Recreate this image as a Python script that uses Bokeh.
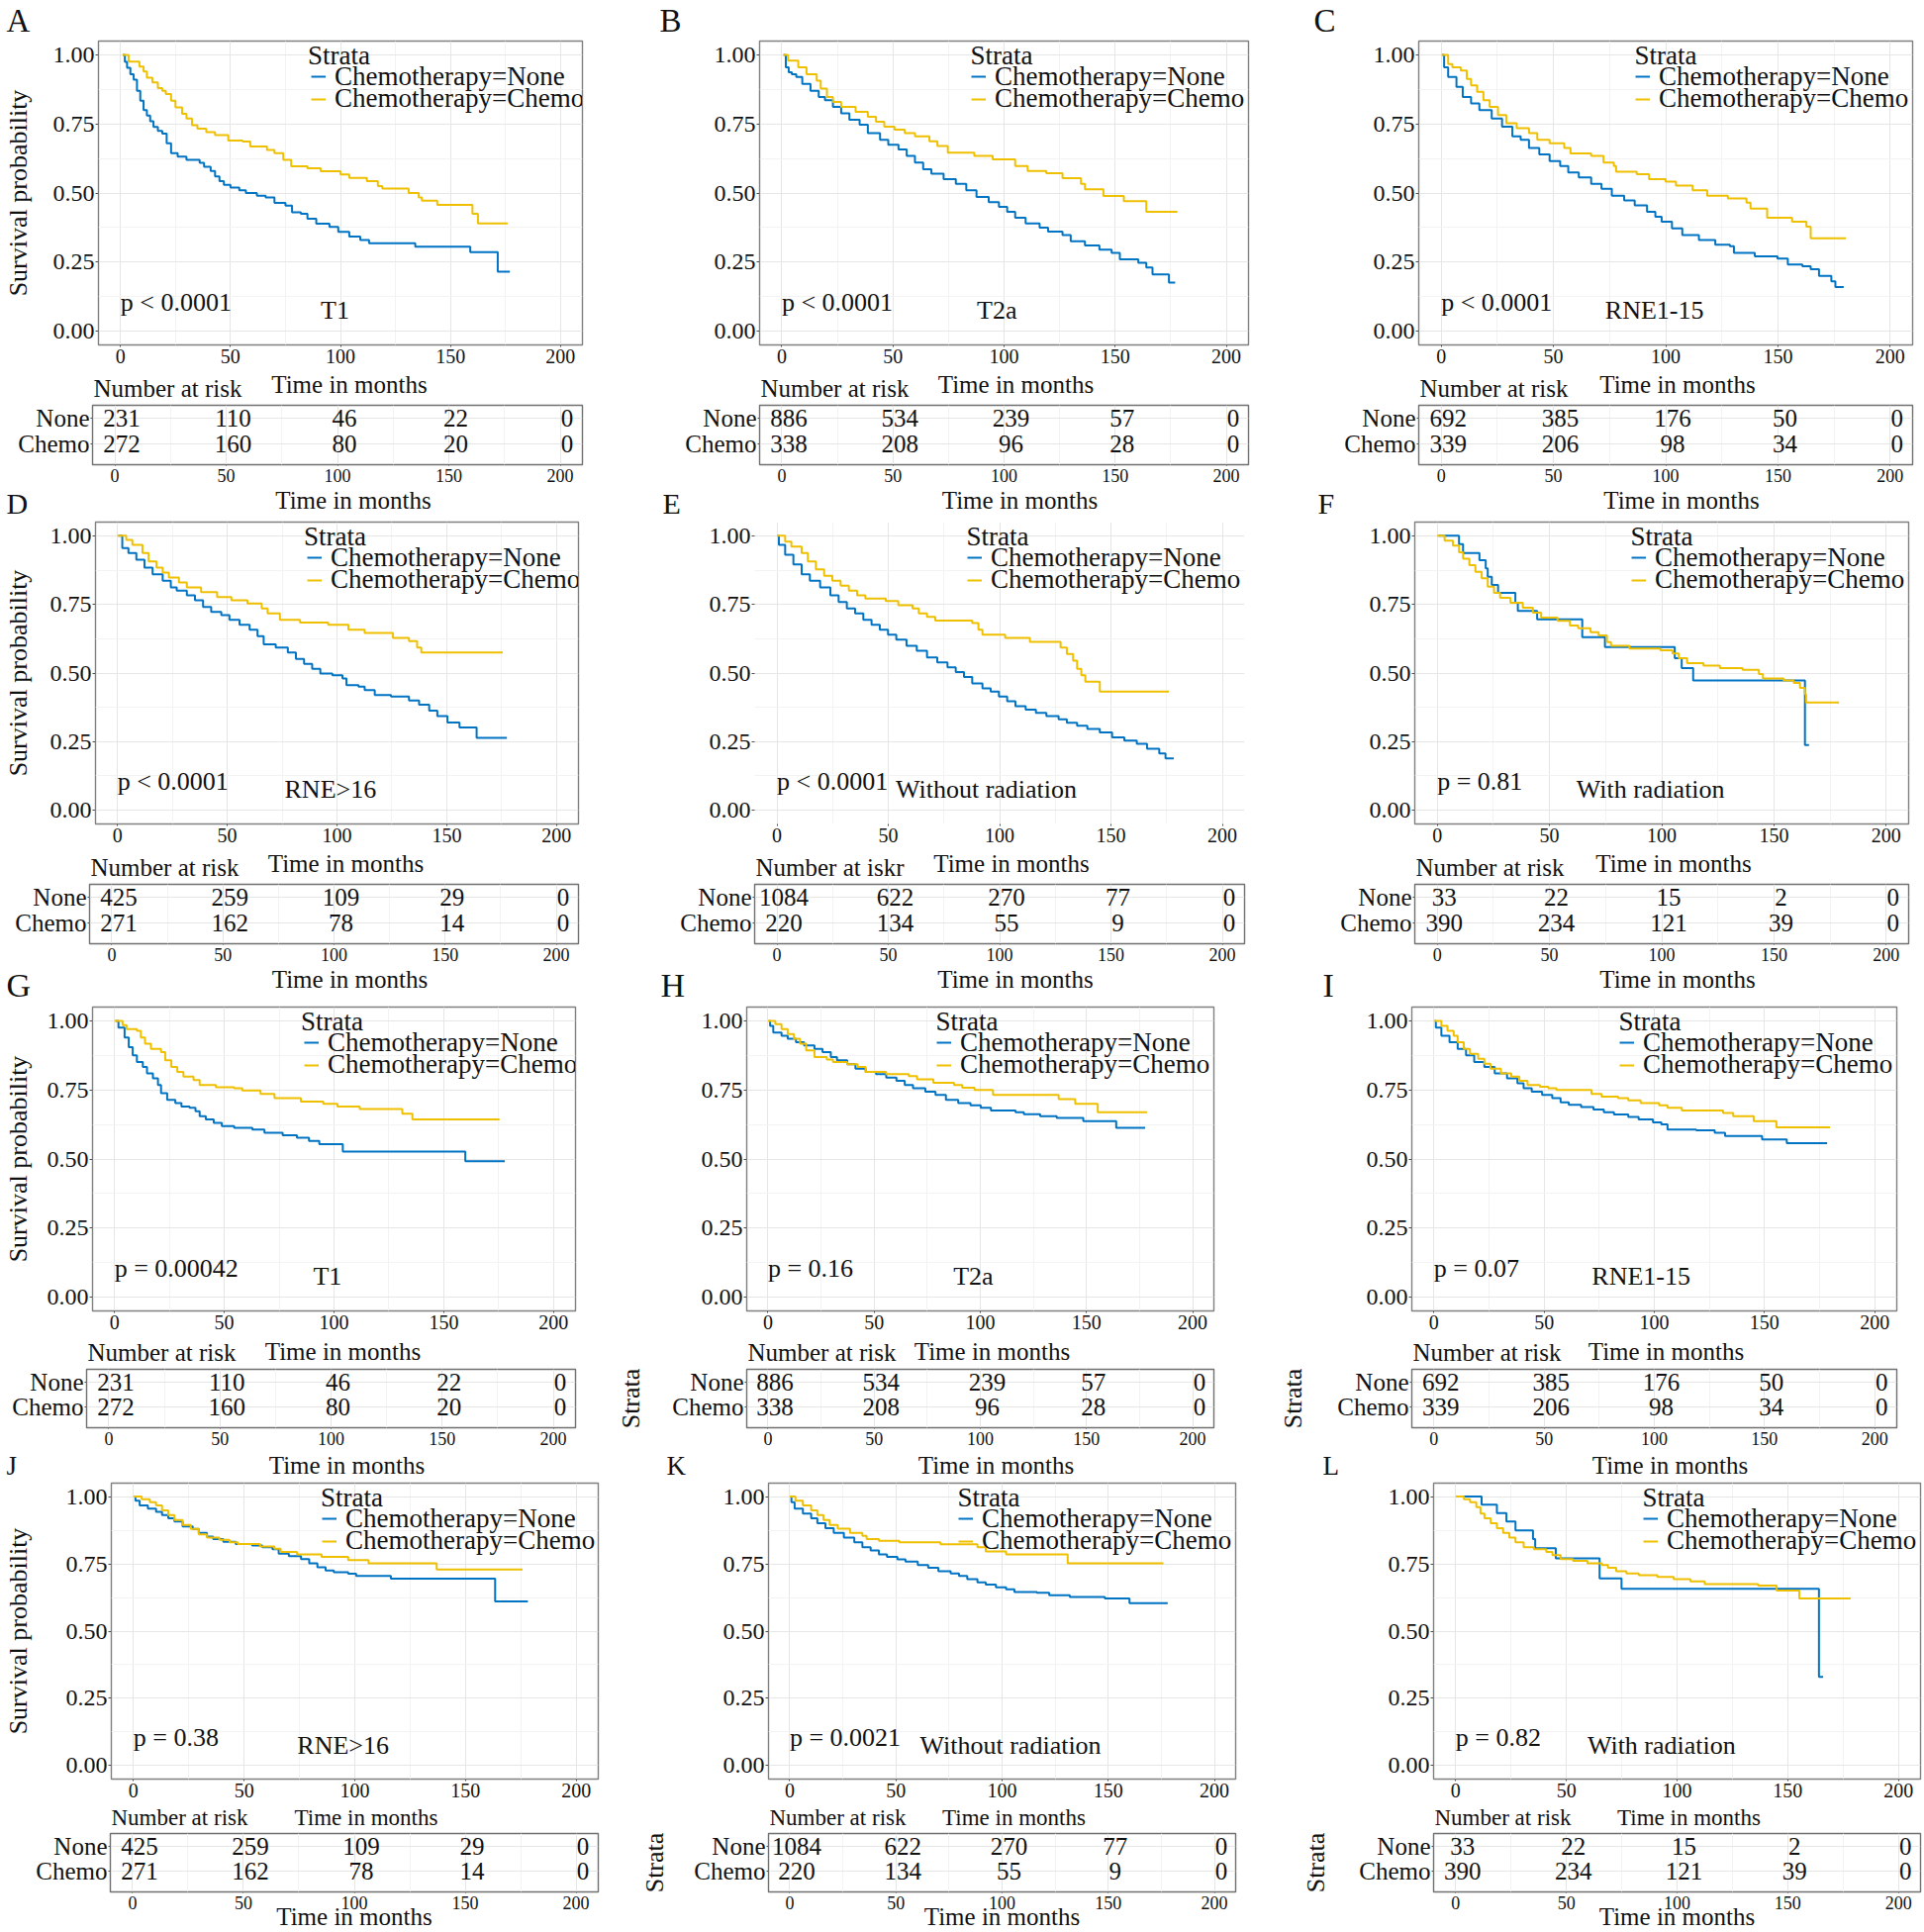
from bokeh.plotting import figure
from bokeh.models import ColumnDataSource, FixedTicker, Legend, LegendItem, Range1d
from bokeh.layouts import column, row
from bokeh.core.properties import value
from bokeh.embed import file_html
from bokeh.resources import INLINE

# ---------------- data ----------------
panel_letters = ["A", "B", "C", "D", "E", "F", "G", "H", "I", "J", "K", "L"]
subgroups = ["T1", "T2a", "RNE1-15", "RNE>16", "Without radiation", "With radiation",
             "T1", "T2a", "RNE1-15", "RNE>16", "Without radiation", "With radiation"]
p_values = ["p < 0.0001", "p < 0.0001", "p < 0.0001", "p < 0.0001", "p < 0.0001", "p = 0.81",
            "p = 0.00042", "p = 0.16", "p = 0.07", "p = 0.38", "p = 0.0021", "p = 0.82"]
risk_titles = ["Number at risk", "Number at risk", "Number at risk", "Number at risk",
               "Number at iskr", "Number at risk", "Number at risk", "Number at risk",
               "Number at risk", "Number at risk", "Number at risk", "Number at risk"]
legend_title = "Strata"
strata_names = ["Chemotherapy=None", "Chemotherapy=Chemo"]
risk_rows = ["None", "Chemo"]
x_ticks = [0, 50, 100, 150, 200]
x_minor = [25, 75, 125, 175]
x_tick_labels = ["0", "50", "100", "150", "200"]
y_ticks = [0, 0.25, 0.5, 0.75, 1.0]
y_minor = [0.125, 0.375, 0.625, 0.875]
y_tick_labels = ["0.00", "0.25", "0.50", "0.75", "1.00"]
risk_times = [0, 50, 100, 150, 200]

# survival curves: (time in months, survival after the step)
A_none = [(1,1.0),(2,0.975),(3,0.953),(4.5,0.93),(6,0.91),(7.5,0.87),(9,0.834),(10.5,0.80),(12,0.78),(13.5,0.76),(15,0.739),(17,0.725),(19,0.715),(21,0.68),(23,0.644),(26,0.632),(30,0.62),(36,0.609),(38,0.595),(41,0.58),(43,0.56),(45,0.543),(47,0.53),(50,0.52),(54,0.51),(57,0.50),(62,0.49),(66,0.484),(70,0.464),(75,0.454),(78,0.43),(82,0.425),(85,0.407),(89,0.389),(95,0.377),(99,0.359),(104,0.342),(109,0.33),(113,0.318),(134,0.306),(159,0.286),(171.5,0.215),(177,0.215)]
A_chemo = [(1,1.0),(3.7,0.976),(8.6,0.958),(10.5,0.94),(12,0.917),(14.5,0.90),(17,0.88),(19,0.87),(20.6,0.858),(23,0.834),(25,0.81),(28,0.787),(30,0.77),(32.5,0.745),(35,0.733),(39,0.72),(43,0.71),(49,0.69),(55.5,0.686),(59,0.668),(66.6,0.656),(70,0.644),(74,0.62),(77.6,0.597),(85,0.59),(91,0.579),(100,0.567),(104,0.555),(112,0.543),(117,0.525),(119,0.516),(131,0.50),(135.6,0.484),(137,0.472),(144,0.457),(160,0.425),(162.5,0.39),(176,0.39)]
B_none = [(1,1.0),(1.8,0.955),(3.1,0.937),(4.5,0.93),(6.5,0.92),(9.2,0.895),(12.9,0.87),(16.6,0.848),(19.4,0.836),(23,0.812),(26.7,0.788),(30.4,0.765),(35,0.747),(38.7,0.717),(44.2,0.693),(47.9,0.675),(52.5,0.658),(56.2,0.634),(59.9,0.61),(63.6,0.586),(67.3,0.57),(72.8,0.55),(78.3,0.533),(83,0.51),(87.6,0.486),(93.1,0.467),(97.7,0.45),(101.4,0.432),(105,0.41),(109.7,0.39),(116,0.375),(119.8,0.36),(126.3,0.348),(130,0.325),(136.4,0.31),(142.9,0.295),(148.4,0.283),(152.1,0.26),(160.4,0.247),(164,0.23),(166.8,0.205),(174.2,0.176),(177,0.176)]
B_chemo = [(0.5,1.0),(2.8,0.979),(7.4,0.955),(11.1,0.93),(15.7,0.907),(17.5,0.878),(20.3,0.848),(23,0.83),(26.7,0.812),(33.2,0.794),(38.7,0.776),(42.4,0.758),(46.1,0.74),(50.7,0.729),(55.3,0.717),(59.9,0.705),(66.4,0.687),(70,0.67),(74.7,0.646),(86.6,0.634),(94.9,0.622),(105,0.598),(110.6,0.58),(119,0.572),(126.3,0.554),(134.6,0.533),(136.4,0.513),(144.7,0.489),(153.9,0.47),(164,0.432),(178,0.432)]
C_none = [(0.4,1.0),(1.3,0.955),(3.1,0.92),(6.8,0.884),(9.6,0.848),(13.3,0.824),(17,0.80),(22.5,0.77),(27.1,0.74),(31.7,0.705),(35.4,0.693),(39.1,0.663),(43.7,0.64),(48.3,0.616),(53,0.598),(56.6,0.574),(61.3,0.556),(66.8,0.533),(71.4,0.515),(76,0.49),(81.5,0.473),(86.2,0.455),(91.7,0.432),(95.4,0.414),(98.2,0.396),(102.8,0.372),(107.4,0.348),(114.8,0.33),(122.1,0.313),(128.6,0.307),(130.4,0.283),(139.7,0.271),(149.8,0.263),(154.4,0.241),(160.9,0.235),(164.6,0.224),(168.3,0.20),(173.8,0.18),(175.6,0.16),(179.3,0.16)]
C_chemo = [(0.2,1.0),(3.1,0.967),(5,0.955),(8.7,0.943),(11.4,0.913),(13.3,0.89),(16,0.866),(18.8,0.836),(21.6,0.812),(25.3,0.782),(29,0.753),(33.6,0.735),(39.1,0.717),(42.8,0.693),(48.3,0.68),(54.8,0.663),(57.6,0.643),(66.8,0.634),(72.3,0.61),(76.9,0.598),(77.9,0.577),(87.1,0.568),(92.6,0.55),(100,0.541),(104.6,0.527),(112,0.51),(118.5,0.49),(127.7,0.48),(136,0.465),(137.8,0.444),(145.2,0.41),(156.3,0.396),(162.7,0.378),(164.6,0.336),(180.3,0.336)]
D_none = [(0.4,1.0),(2.2,0.955),(5,0.937),(8.6,0.913),(12.3,0.884),(16,0.86),(20.6,0.836),(24.3,0.812),(27,0.80),(31.6,0.783),(35.3,0.765),(39,0.741),(42.7,0.723),(47.3,0.711),(51,0.694),(55.6,0.676),(60.2,0.658),(63.8,0.634),(66.6,0.605),(72.1,0.593),(77.6,0.575),(81.3,0.551),(85,0.533),(88.7,0.515),(92.4,0.498),(97.9,0.492),(102.5,0.48),(104.3,0.456),(109.8,0.45),(112.6,0.438),(117.2,0.42),(124.6,0.414),(132.8,0.40),(137.4,0.385),(142,0.363),(145.7,0.343),(150.3,0.32),(155.8,0.302),(163.6,0.264),(177.4,0.264)]
D_chemo = [(0,1.0),(4,0.985),(6.8,0.967),(11.4,0.937),(14.2,0.907),(17.8,0.884),(20.6,0.866),(23.4,0.848),(28,0.83),(31.6,0.812),(38.1,0.795),(45.4,0.777),(51.9,0.765),(59.2,0.753),(65.7,0.735),(68.4,0.717),(74,0.694),(83.2,0.684),(96,0.676),(105.2,0.658),(112.6,0.646),(125.5,0.628),(132.8,0.616),(136.5,0.593),(138.4,0.575),(175.5,0.575)]
E_none = [(0.5,1.0),(0.9,0.967),(3.7,0.931),(7.4,0.896),(11.1,0.86),(14.8,0.836),(19.4,0.812),(24,0.783),(27.7,0.759),(31.4,0.735),(35.1,0.717),(38.8,0.694),(42.5,0.676),(46.2,0.658),(49.9,0.64),(53.6,0.622),(58.2,0.599),(62.8,0.581),(67.4,0.557),(72,0.539),(76.6,0.521),(80.3,0.504),(84,0.486),(87.7,0.462),(92.3,0.444),(96,0.432),(99.7,0.414),(103.4,0.397),(107.1,0.379),(111.7,0.367),(116.3,0.355),(121,0.343),(126.5,0.331),(130.2,0.319),(134.8,0.308),(139.4,0.296),(145,0.284),(150.5,0.266),(156,0.254),(161.6,0.242),(166.2,0.224),(171.7,0.207),(174.5,0.189),(178.2,0.189)]
E_chemo = [(0,1.0),(3.7,0.979),(6.5,0.961),(11.1,0.937),(13.9,0.907),(17.5,0.878),(21.2,0.854),(24.9,0.836),(28.6,0.818),(32.3,0.80),(36,0.783),(39.7,0.771),(48.9,0.762),(54.5,0.747),(60.9,0.735),(63.7,0.717),(67.4,0.705),(71.1,0.691),(87.7,0.682),(90.5,0.658),(92.3,0.64),(102.5,0.628),(113.6,0.614),(127.4,0.593),(130.2,0.569),(133,0.545),(134.8,0.515),(136.7,0.492),(138.5,0.468),(145,0.432),(176,0.432)]
F_none = [(0.5,1.0),(9.7,0.970),(11.5,0.937),(18.8,0.911),(21.6,0.881),(22.5,0.851),(24.3,0.821),(27.1,0.792),(34.8,0.756),(35.9,0.726),(44.5,0.696),(64.6,0.631),(74.7,0.595),(105.8,0.554),(108.9,0.518),(114,0.473),(163.8,0.238),(165.6,0.238)]
F_chemo = [(0,1.0),(3.3,0.982),(7,0.964),(9.7,0.94),(11.5,0.917),(14.3,0.893),(17,0.869),(19.8,0.845),(22.5,0.815),(25.3,0.792),(28,0.774),(32.6,0.756),(38.1,0.738),(42.6,0.72),(46.3,0.702),(53.6,0.69),(59.1,0.673),(62.8,0.663),(68.3,0.649),(71.9,0.637),(75.6,0.613),(77.4,0.599),(85.6,0.589),(99.4,0.583),(104.8,0.571),(107.6,0.554),(111.3,0.536),(118.6,0.527),(125.9,0.518),(136,0.512),(143.3,0.496),(145.1,0.48),(154.3,0.473),(158.8,0.464),(161.6,0.446),(163.8,0.423),(164.3,0.393),(179,0.393)]
G_none = [(0.6,1.0),(1.8,0.976),(4.6,0.94),(6.5,0.905),(8.3,0.875),(10.2,0.851),(12.9,0.833),(14.8,0.81),(17.5,0.792),(19.8,0.768),(21.2,0.738),(24,0.714),(27.7,0.702),(30.5,0.69),(34.2,0.685),(36.9,0.673),(38.8,0.655),(41.6,0.643),(45.2,0.631),(48.9,0.619),(54.5,0.613),(62.8,0.607),(68.3,0.595),(76.6,0.586),(83.1,0.577),(88.6,0.565),(93.3,0.554),(104,0.527),(159.8,0.492),(177.8,0.492)]
G_chemo = [(0,1.0),(3.7,0.985),(5.5,0.97),(10.2,0.964),(12,0.94),(13.9,0.917),(16.6,0.899),(21.2,0.887),(23.1,0.857),(25.9,0.833),(28.6,0.815),(31.4,0.798),(36,0.786),(38.8,0.768),(46.2,0.76),(54.5,0.756),(58.2,0.748),(66.5,0.736),(72.9,0.72),(84.9,0.708),(95.1,0.70),(101.6,0.69),(111.7,0.681),(131.1,0.664),(135.7,0.643),(175.4,0.643)]
H_none = [(0.5,1.0),(1,0.982),(2.5,0.958),(6.4,0.946),(9.3,0.935),(13.2,0.923),(17,0.911),(21.9,0.899),(25.7,0.887),(29.6,0.869),(32.5,0.857),(37.3,0.843),(41.2,0.827),(46,0.815),(50.9,0.807),(55.7,0.795),(60.5,0.783),(64.4,0.768),(68.3,0.756),(74.1,0.744),(78.9,0.732),(83.8,0.714),(89.6,0.702),(95.4,0.694),(100.2,0.685),(105,0.676),(116.6,0.669),(120.5,0.662),(128.2,0.655),(136,0.649),(148.5,0.637),(164,0.613),(177.6,0.613)]
H_chemo = [(0,1.0),(3.5,0.988),(6.4,0.97),(9.3,0.952),(12.2,0.935),(15.1,0.917),(18,0.893),(21.9,0.869),(27.7,0.86),(30.6,0.851),(37.3,0.843),(42.2,0.833),(46,0.815),(55.7,0.807),(66.3,0.80),(70.2,0.788),(77.9,0.776),(87.6,0.768),(91.5,0.758),(97.3,0.75),(106,0.732),(136.9,0.717),(144.7,0.70),(155.3,0.669),(178.5,0.669)]
I_none = [(0.5,1.0),(0.9,0.976),(3.4,0.946),(7.1,0.923),(10.8,0.899),(14.6,0.875),(18.3,0.851),(22.9,0.833),(27.6,0.81),(33.2,0.792),(37.9,0.774),(40.7,0.756),(44.4,0.744),(49.1,0.732),(53.7,0.72),(57.5,0.705),(61.2,0.696),(66.8,0.688),(72.4,0.679),(77.1,0.669),(81.7,0.661),(88.2,0.652),(92.9,0.643),(99.4,0.633),(103.2,0.625),(106,0.607),(119,0.604),(127.4,0.595),(132.1,0.583),(148.9,0.571),(160.1,0.557),(178.4,0.557)]
I_chemo = [(0,1.0),(3.4,0.982),(6.2,0.964),(9,0.946),(10.8,0.923),(13.6,0.899),(16.4,0.881),(20.1,0.863),(22.9,0.845),(25.7,0.827),(30.4,0.81),(35.1,0.798),(38.8,0.783),(42.5,0.768),(48.1,0.762),(51.9,0.756),(55.6,0.75),(71.5,0.736),(76.1,0.726),(83.6,0.72),(88.2,0.712),(93.8,0.702),(102.2,0.694),(106,0.685),(112.5,0.676),(131.2,0.667),(135.8,0.655),(145.1,0.637),(155.4,0.615),(179.7,0.615)]
J_none = [(0.4,1.0),(0.9,0.985),(2.8,0.967),(6.5,0.955),(10.2,0.943),(12.9,0.931),(15.7,0.919),(18.5,0.907),(22.2,0.889),(26.8,0.88),(29.5,0.865),(33.2,0.851),(36,0.842),(40.6,0.832),(46.2,0.824),(53.6,0.818),(58.2,0.812),(62.8,0.804),(65.6,0.788),(70.2,0.779),(75.7,0.768),(79.4,0.752),(83.1,0.737),(86.8,0.725),(90.5,0.719),(97,0.713),(100.6,0.705),(116.3,0.695),(163.4,0.61),(178.2,0.61)]
J_chemo = [(0,1.0),(3.7,0.99),(7.4,0.979),(10.2,0.967),(12.9,0.949),(15.7,0.931),(18.5,0.913),(22.2,0.895),(25.9,0.88),(29.5,0.86),(33.2,0.848),(38.8,0.839),(43.4,0.83),(47.1,0.824),(57.2,0.815),(63.7,0.806),(66.5,0.794),(73.9,0.785),(85,0.776),(97,0.764),(106.2,0.752),(137,0.729),(175.8,0.729)]
K_none = [(0.4,1.0),(0.8,0.979),(2.3,0.955),(6.2,0.937),(10.1,0.919),(13,0.901),(16.8,0.883),(20.7,0.865),(25.5,0.848),(30.4,0.83),(34.2,0.812),(38.1,0.80),(42,0.785),(45.8,0.776),(50.7,0.767),(54.5,0.758),(60.3,0.746),(65.2,0.735),(70,0.723),(75.8,0.714),(79.7,0.705),(83.6,0.693),(88.4,0.681),(92.3,0.673),(97.1,0.663),(101.9,0.655),(105.8,0.645),(116.4,0.643),(122.2,0.633),(131.9,0.627),(148.4,0.621),(160,0.604),(178,0.604)]
K_chemo = [(0,1.0),(2.7,0.985),(6.2,0.967),(10.1,0.949),(13,0.931),(15.9,0.913),(18.8,0.895),(22.6,0.881),(28.4,0.865),(34.2,0.854),(36.2,0.842),(42,0.836),(51.6,0.83),(71,0.823),(88.4,0.812),(92.3,0.796),(101.9,0.785),(130.9,0.752),(176,0.752)]
L_none = [(0.5,1.0),(11.7,0.970),(18.6,0.939),(22.9,0.907),(27,0.874),(34.9,0.842),(35.9,0.808),(45.2,0.770),(65,0.696),(74.9,0.657),(164.1,0.330),(166,0.330)]
L_chemo = [(0,1.0),(3.7,0.99),(6.5,0.979),(9.3,0.961),(11.2,0.937),(13,0.919),(15.8,0.901),(18.6,0.883),(21.4,0.865),(24.2,0.848),(27,0.83),(30.7,0.812),(35.3,0.804),(40.9,0.794),(43.7,0.782),(47.4,0.768),(53,0.761),(59.5,0.752),(66,0.746),(68.8,0.735),(72.5,0.723),(77.1,0.714),(82.7,0.708),(91.1,0.701),(98.5,0.693),(106,0.685),(112.5,0.675),(136.6,0.669),(145,0.651),(155.2,0.621),(178.4,0.621)]

# numbers at risk at 0, 50, 100, 150, 200 months
risk_T1_none = [231, 110, 46, 22, 0]
risk_T1_chemo = [272, 160, 80, 20, 0]
risk_T2a_none = [886, 534, 239, 57, 0]
risk_T2a_chemo = [338, 208, 96, 28, 0]
risk_RNE115_none = [692, 385, 176, 50, 0]
risk_RNE115_chemo = [339, 206, 98, 34, 0]
risk_RNE16_none = [425, 259, 109, 29, 0]
risk_RNE16_chemo = [271, 162, 78, 14, 0]
risk_norad_none = [1084, 622, 270, 77, 0]
risk_norad_chemo = [220, 134, 55, 9, 0]
risk_rad_none = [33, 22, 15, 2, 0]
risk_rad_chemo = [390, 234, 121, 39, 0]

curves_none = [A_none, B_none, C_none, D_none, E_none, F_none, G_none, H_none, I_none, J_none, K_none, L_none]
curves_chemo = [A_chemo, B_chemo, C_chemo, D_chemo, E_chemo, F_chemo, G_chemo, H_chemo, I_chemo, J_chemo, K_chemo, L_chemo]
risks_none = [risk_T1_none, risk_T2a_none, risk_RNE115_none, risk_RNE16_none, risk_norad_none, risk_rad_none] * 2
risks_chemo = [risk_T1_chemo, risk_T2a_chemo, risk_RNE115_chemo, risk_RNE16_chemo, risk_norad_chemo, risk_rad_chemo] * 2

# ---------------- styling / layout (reference pixel geometry) ----------------
FONT = "Liberation Serif"
BLUE, GOLD = "#0073C2", "#EFC000"
INK = "#111111"
COLS = [(0, 615), (615, 660), (1275, 669)]          # column left edge, width
TOP_STRIP = (0, 40)
TOP_LETTER = (20, 33)                               # centre y, font size
TXT = 25
ROWS = [
    dict(km=(40, 373), mid=(373, 407), tab=(407, 490), bot=(490, 526), tabf=(409, 469),
         km_title_y=388, nar_y=392, mid_size=TXT, tab_title_y=505, letter_y=508, letter_size=30),
    dict(km=(526, 857), mid=(857, 891), tab=(891, 974), bot=(974, 1016), tabf=(893, 953),
         km_title_y=872, nar_y=876, mid_size=TXT, tab_title_y=989, letter_y=995, letter_size=34),
    dict(km=(1016, 1349), mid=(1349, 1381), tab=(1381, 1464), bot=(1464, 1497), tabf=(1383, 1442),
         km_title_y=1365, nar_y=1366, mid_size=TXT, tab_title_y=1479.5, letter_y=1480.5, letter_size=27),
    dict(km=(1497, 1822), mid=(1822, 1850), tab=(1850, 1952), bot=None, tabf=(1852, 1911),
         km_title_y=1836, nar_y=1836, mid_size=23, tab_title_y=None, letter_y=None, letter_size=None),
]
KM_FRAMES = [(93, 41, 588, 348), (767, 41, 1261, 348), (1433, 41, 1932, 348),
             (90, 527, 584, 832), (762, 527, 1257, 832), (1429, 527, 1928, 832),
             (87, 1017, 581, 1324), (754, 1017, 1226, 1324), (1426, 1017, 1916, 1324),
             (111, 1498, 604, 1797), (776, 1498, 1248, 1797), (1448, 1498, 1940, 1797)]
SUB_X = [97.5, 96.8, 95, 97, 94, 95, 97, 96.7, 94, 94.7, 104, 93]
LETTER_X = [6, 666, 1327, 6, 669, 1331, 6, 667, 1336, 6, 673, 1336]
YLAB_STANDOFF = {0: 18, 3: 15, 6: 12, 9: 31}
STRATA_STANDOFF = {7: 24, 8: 27, 10: 22, 11: 26}
LEG_FROM_RIGHT = 280          # legend block starts this many px left of the frame's right edge
LEG_ITEM_DY = [35, 57.5]      # legend entry centres below the frame top (px)
LEG_TITLE_DY = 14             # legend title centre below the frame top (px)
LEG_ITEM_H = 31


def unaligned(p):
    try:
        p.frame_align = False
    except Exception:
        pass
    return p


def base_fig(cx0, cw, fy0, fy1, frame, yr):
    fl, ft, fr, fb = frame
    p = figure(width=cw, height=fy1 - fy0, x_range=Range1d(-10, 210), y_range=yr,
               toolbar_location=None, output_backend="svg",
               min_border_left=fl - cx0, min_border_right=cx0 + cw - fr,
               min_border_top=ft - fy0, min_border_bottom=fy1 - fb)
    unaligned(p)
    p.background_fill_color = "white"
    p.border_fill_color = "white"
    p.xaxis.ticker = FixedTicker(ticks=x_ticks, minor_ticks=x_minor)
    p.xaxis.major_label_overrides = dict(zip(x_ticks, x_tick_labels))
    for ax in (p.xaxis[0], p.yaxis[0]):
        ax.axis_line_color = None
        ax.major_tick_in = 0
        ax.major_tick_out = 3
        ax.major_tick_line_color = "#4d4d4d"
        ax.minor_tick_line_color = None
        ax.major_label_text_font = FONT
        ax.major_label_text_color = INK
        ax.major_label_standoff = 0
        ax.axis_label_text_font = FONT
        ax.axis_label_text_font_style = "normal"
        ax.axis_label_text_color = INK
        ax.axis_label_text_font_size = "26px"
    p.xgrid.grid_line_color = "#E6E6E6"
    p.xgrid.minor_grid_line_color = "#F3F3F3"
    p.ygrid.grid_line_color = "#E6E6E6"
    p.ygrid.minor_grid_line_color = "#F3F3F3"
    return p


def strip(cx0, cw, y0, y1):
    s = figure(width=cw, height=y1 - y0, x_range=Range1d(cx0, cx0 + cw), y_range=Range1d(y1, y0),
               toolbar_location=None, output_backend="svg", x_axis_type=None, y_axis_type=None,
               min_border_left=0, min_border_right=0, min_border_top=0, min_border_bottom=0)
    unaligned(s)
    s.outline_line_color = None
    s.background_fill_color = "white"
    s.border_fill_color = "white"
    return s


def say(s, x, y, text, size, align="left"):
    s.text(x=[x], y=[y], text=[text], text_font=value(FONT), text_font_size=value(f"{size}px"),
           text_color=INK, text_align=align, text_baseline="middle")


def make_km(i):
    c, r = i % 3, i // 3
    cx0, cw = COLS[c]
    fy0, fy1 = ROWS[r]["km"]
    frame = KM_FRAMES[i]
    fl, ft, fr, fb = frame
    W, H = fr - fl, fb - ft
    p = base_fig(cx0, cw, fy0, fy1, frame, Range1d(-0.05, 1.05))
    p.outline_line_color = None if panel_letters[i] == "E" else "#808080"
    p.outline_line_width = 1.4
    p.xaxis.major_label_text_font_size = "20px"
    p.xaxis.major_tick_out = 2
    p.yaxis.ticker = FixedTicker(ticks=y_ticks, minor_ticks=y_minor)
    p.yaxis.major_label_overrides = dict(zip(y_ticks, y_tick_labels))
    p.yaxis.major_label_text_font_size = "24px"
    if i in YLAB_STANDOFF:
        p.yaxis.axis_label = "Survival probability"
        p.yaxis.axis_label_standoff = YLAB_STANDOFF[i]

    renderers = []
    for curve, color in ((curves_none[i], BLUE), (curves_chemo[i], GOLD)):
        t = [a for a, b in curve]
        s = [b for a, b in curve]
        renderers.append(p.step(x=t, y=s, mode="after", line_color=color, line_width=2))

    # legend: title text + one entry per stratum, stacked top-right inside the panel
    leg_x = W - LEG_FROM_RIGHT
    for name, rend, dy in zip(strata_names, renderers, LEG_ITEM_DY):
        lg = Legend(items=[LegendItem(label=value(name), renderers=[rend])],
                    location=(leg_x, H - dy - LEG_ITEM_H / 2 - 1), margin=0, padding=1, spacing=0,
                    background_fill_alpha=0, border_line_color=None,
                    glyph_width=15, glyph_height=30, label_height=30, label_standoff=9,
                    label_text_font=FONT, label_text_font_size="27px", label_text_color=INK)
        p.add_layout(lg)
    title_x = -10 + (W - LEG_FROM_RIGHT - 1) / W * 220
    title_y = 1.05 - LEG_TITLE_DY / H * 1.1
    p.text(x=[title_x], y=[title_y], text=[legend_title], text_font=value(FONT),
           text_font_size=value("27px"), text_color=INK, text_align="left", text_baseline="middle")

    p.text(x=[0], y=[0.105], text=[p_values[i]], text_font=value(FONT), text_font_size=value("26px"),
           text_color=INK, text_align="left", text_baseline="middle")
    p.text(x=[SUB_X[i]], y=[0.075], text=[subgroups[i]], text_font=value(FONT),
           text_font_size=value("26px"), text_color=INK, text_align="center", text_baseline="middle")
    return p


def make_tab(i):
    c, r = i % 3, i // 3
    cx0, cw = COLS[c]
    fy0, fy1 = ROWS[r]["tab"]
    fl, _, fr, _ = KM_FRAMES[i]
    ft, fb = ROWS[r]["tabf"]
    p = base_fig(cx0, cw, fy0, fy1, (fl, ft, fr, fb), Range1d(0.2, 2.5))
    p.outline_line_color = "#707070"
    p.outline_line_width = 1.4
    p.xaxis.major_label_text_font_size = "18px"
    p.xaxis.major_tick_out = 1
    if ROWS[r]["bot"] is None:
        p.xaxis.axis_label = "Time in months"
        p.xaxis.axis_label_text_font_size = f"{TXT}px"
        p.xaxis.axis_label_standoff = -9
    row_y = [2, 1]
    p.yaxis.ticker = FixedTicker(ticks=row_y)
    p.yaxis.major_label_overrides = dict(zip(row_y, risk_rows))
    p.yaxis.major_label_text_font_size = "25px"
    p.yaxis.major_tick_out = 2
    p.yaxis.major_label_standoff = 1
    p.ygrid.minor_grid_line_color = None
    if i in STRATA_STANDOFF:
        p.yaxis.axis_label = "Strata"
        p.yaxis.axis_label_standoff = STRATA_STANDOFF[i]

    src = ColumnDataSource(dict(
        x=risk_times + risk_times,
        y=[row_y[0]] * len(risk_times) + [row_y[1]] * len(risk_times),
        t=[str(v) for v in risks_none[i]] + [str(v) for v in risks_chemo[i]]))
    p.text(x="x", y="y", text="t", source=src, text_font=value(FONT), text_font_size=value("25px"),
           text_color=INK, text_align="center", text_baseline="middle", x_offset=7)
    return p


def boxed(fig):
    return column(fig, spacing=0)


cols = []
for c in range(3):
    cx0, cw = COLS[c]
    figs = []
    top = strip(cx0, cw, *TOP_STRIP)
    say(top, LETTER_X[c], TOP_LETTER[0], panel_letters[c], TOP_LETTER[1])
    figs.append(boxed(top))
    for r in range(4):
        i = r * 3 + c
        R = ROWS[r]
        fl, ft, fr, fb = KM_FRAMES[i]
        figs.append(boxed(make_km(i)))
        mid = strip(cx0, cw, *R["mid"])
        say(mid, (fl + fr) / 2 + 12, R["km_title_y"], "Time in months", R["mid_size"], align="center")
        say(mid, fl + 1, R["nar_y"], risk_titles[i], R["mid_size"])
        figs.append(boxed(mid))
        figs.append(boxed(make_tab(i)))
        if R["bot"] is not None:
            bot = strip(cx0, cw, *R["bot"])
            say(bot, (fl + fr) / 2 + 16, R["tab_title_y"], "Time in months", TXT, align="center")
            say(bot, LETTER_X[i + 3], R["letter_y"], panel_letters[i + 3], R["letter_size"])
            figs.append(boxed(bot))
    cols.append(column(*figs, spacing=0))
layout = row(*cols, spacing=0)

open("out.html", "w").write(file_html(layout, INLINE, "Kaplan-Meier survival by chemotherapy"))
